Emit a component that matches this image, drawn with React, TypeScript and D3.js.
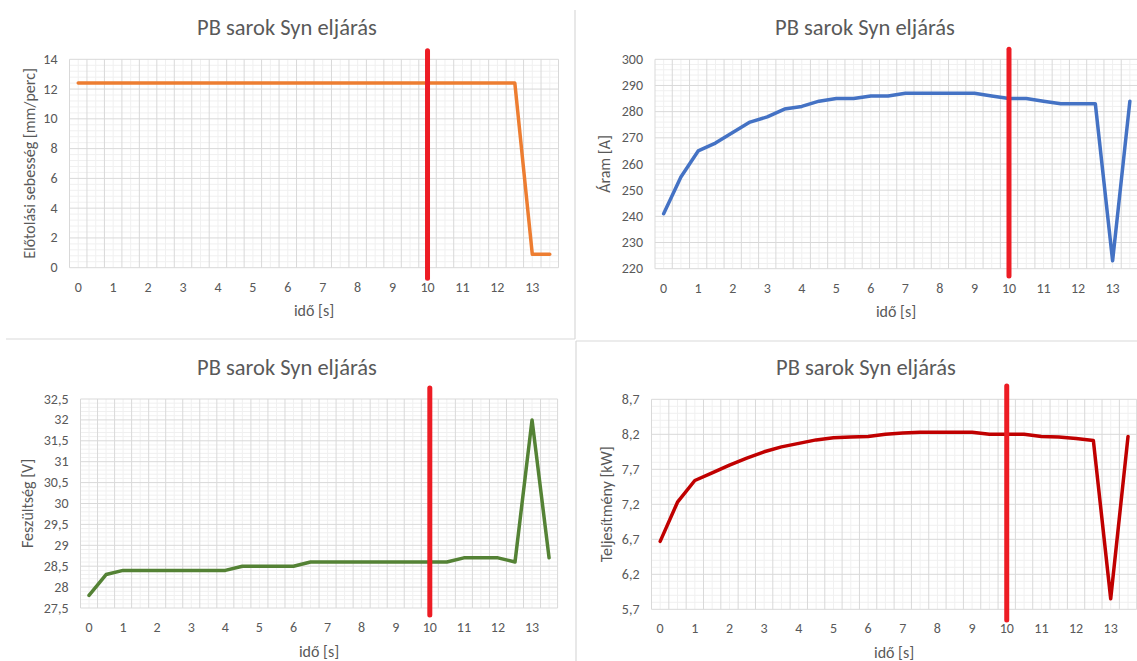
import React, { useEffect, useRef } from 'react';
import * as d3 from 'd3';

// időpontok (kategóriák) [s]
const ido = [0, 0.5, 1, 1.5, 2, 2.5, 3, 3.5, 4, 4.5, 5, 5.5, 6, 6.5, 7, 7.5, 8, 8.5, 9, 9.5, 10, 10.5, 11, 11.5, 12, 12.5, 13, 13.5];

// mért értékek
const elotolas = [12.4, 12.4, 12.4, 12.4, 12.4, 12.4, 12.4, 12.4, 12.4, 12.4, 12.4, 12.4, 12.4, 12.4, 12.4, 12.4, 12.4, 12.4, 12.4, 12.4, 12.4, 12.4, 12.4, 12.4, 12.4, 12.4, 0.9, 0.9];
const aram = [241, 255, 265, 268, 272, 276, 278, 281, 282, 284, 285, 285, 286, 286, 287, 287, 287, 287, 287, 286, 285, 285, 284, 283, 283, 283, 223, 284];
const feszultseg = [27.8, 28.3, 28.4, 28.4, 28.4, 28.4, 28.4, 28.4, 28.4, 28.5, 28.5, 28.5, 28.5, 28.6, 28.6, 28.6, 28.6, 28.6, 28.6, 28.6, 28.6, 28.6, 28.7, 28.7, 28.7, 28.6, 32.0, 28.7];
const teljesitmeny = [6.67, 7.23, 7.54, 7.65, 7.76, 7.86, 7.95, 8.02, 8.07, 8.12, 8.15, 8.16, 8.17, 8.20, 8.22, 8.23, 8.23, 8.23, 8.23, 8.20, 8.20, 8.20, 8.17, 8.16, 8.14, 8.11, 5.85, 8.17];

// tengely feliratok
const yTicks1 = [0, 2, 4, 6, 8, 10, 12, 14];
const yTicks2 = [220, 230, 240, 250, 260, 270, 280, 290, 300];
const yTicks3 = [27.5, 28, 28.5, 29, 29.5, 30, 30.5, 31, 31.5, 32, 32.5];
const yTicks4 = [5.7, 6.2, 6.7, 7.2, 7.7, 8.2, 8.7];
const xLabels = [0, 1, 2, 3, 4, 5, 6, 7, 8, 9, 10, 11, 12, 13];

const cim = 'PB sarok Syn eljárás';
const xCim = 'idő [s]';
const jelolo = 10; // piros függőleges jelölő

const FONT = "Carlito, Lato, 'Noto Sans', sans-serif";
const TEXT = '#595959';

const panels = [
  { values: elotolas, color: '#ED7D31', ticks: yTicks1, yTitle: 'Előtolási sebesség [mm/perc]',
    left: 69.5, right: 558.5, top: 59.3, bottom: 267.7, titleX: 287, yTitleX: 29, redTop: 50.7, redBottom: 278.3 },
  { values: aram, color: '#4472C4', ticks: yTicks2, yTitle: 'Áram [A]',
    left: 655, right: 1138.5, top: 59.3, bottom: 268.7, titleX: 865, yTitleX: 604.5, redTop: 49.3, redBottom: 276 },
  { values: feszultseg, color: '#548235', ticks: yTicks3, yTitle: 'Feszültség [V]',
    left: 80.5, right: 557.6, top: 399, bottom: 608, titleX: 287, yTitleX: 27, redTop: 388, redBottom: 615 },
  { values: teljesitmeny, color: '#C00000', ticks: yTicks4, yTitle: 'Teljesítmény [kW]',
    left: 651.5, right: 1136.7, top: 399.3, bottom: 609.3, titleX: 866, yTitleX: 606, redTop: 386, redBottom: 620 },
];

const fmt = (v: number) => String(v).replace('.', ',');

export default function App() {
  const svgRef = useRef<SVGSVGElement>(null);

  useEffect(() => {
    const svg = d3.select(svgRef.current);
    svg.selectAll('*').remove();

    panels.forEach((p) => {
      const g = svg.append('g');
      const x = d3.scaleBand<number>().domain(ido).range([p.left, p.right]).padding(0);
      const bw = x.bandwidth();
      const cx = (d: number) => (x(d) as number) + bw / 2;
      const lo = p.ticks[0];
      const hi = p.ticks[p.ticks.length - 1];
      const y = d3.scaleLinear().domain([lo, hi]).range([p.bottom, p.top]);
      const step = p.ticks[1] - p.ticks[0];

      // minor gridlines
      const minorY: number[] = [];
      for (let i = 0; i < (p.ticks.length - 1) * 5; i++) {
        if (i % 5 !== 0) minorY.push(lo + (i * step) / 5);
      }
      g.append('g').selectAll('line').data(minorY).join('line')
        .attr('x1', p.left).attr('x2', p.right)
        .attr('y1', d => y(d)).attr('y2', d => y(d))
        .attr('stroke', '#f0f0f0').attr('stroke-width', 1);
      g.append('g').selectAll('line').data(ido).join('line')
        .attr('x1', d => cx(d)).attr('x2', d => cx(d))
        .attr('y1', p.top).attr('y2', p.bottom)
        .attr('stroke', '#f0f0f0').attr('stroke-width', 1);

      // major gridlines
      g.append('g').selectAll('line').data(p.ticks).join('line')
        .attr('x1', p.left).attr('x2', p.right)
        .attr('y1', d => y(d)).attr('y2', d => y(d))
        .attr('stroke', '#d9d9d9').attr('stroke-width', 1);
      const bounds = [...ido.map(d => x(d) as number), p.right];
      g.append('g').selectAll('line').data(bounds).join('line')
        .attr('x1', d => d).attr('x2', d => d)
        .attr('y1', p.top).attr('y2', p.bottom)
        .attr('stroke', '#d9d9d9').attr('stroke-width', 1);

      // y tick labels
      g.append('g').selectAll('text').data(p.ticks).join('text')
        .attr('x', p.left - 12).attr('y', d => y(d))
        .attr('text-anchor', 'end').attr('dominant-baseline', 'central')
        .attr('font-family', FONT).attr('font-size', 14).attr('fill', TEXT)
        .text(d => fmt(d));

      // x tick labels
      g.append('g').selectAll('text').data(xLabels).join('text')
        .attr('x', d => cx(d)).attr('y', p.bottom + 19.5)
        .attr('text-anchor', 'middle').attr('dominant-baseline', 'central')
        .attr('font-family', FONT).attr('font-size', 14).attr('fill', TEXT)
        .text(d => String(d));

      // data line
      const line = d3.line<number>()
        .x((_, i) => cx(ido[i]))
        .y(d => y(d));
      g.append('path').datum(p.values)
        .attr('d', line)
        .attr('fill', 'none').attr('stroke', p.color)
        .attr('stroke-width', 3.5).attr('stroke-linejoin', 'round').attr('stroke-linecap', 'round');

      // red marker
      g.append('line')
        .attr('x1', cx(jelolo)).attr('x2', cx(jelolo))
        .attr('y1', p.redTop).attr('y2', p.redBottom)
        .attr('stroke', '#ED1C24').attr('stroke-width', 5).attr('stroke-linecap', 'round');

      // titles
      g.append('text')
        .attr('x', p.titleX).attr('y', p.top - 32)
        .attr('text-anchor', 'middle').attr('dominant-baseline', 'central')
        .attr('font-family', FONT).attr('font-size', 22.5).attr('fill', TEXT)
        .text(cim);
      g.append('text')
        .attr('x', (p.left + Math.min(p.right, 1137)) / 2).attr('y', p.bottom + 43)
        .attr('text-anchor', 'middle').attr('dominant-baseline', 'central')
        .attr('font-family', FONT).attr('font-size', 16).attr('fill', TEXT)
        .text(xCim);
      g.append('text')
        .attr('transform', `translate(${p.yTitleX},${(p.top + p.bottom) / 2}) rotate(-90)`)
        .attr('text-anchor', 'middle').attr('dominant-baseline', 'central')
        .attr('font-family', FONT).attr('font-size', 16).attr('fill', TEXT)
        .text(p.yTitle);
    });

    // chart borders
    const borders = [
      [575, 10, 575, 339],
      [6, 339, 575, 339],
      [576, 341, 1137, 341],
      [576, 341, 576, 661],
    ];
    svg.append('g').selectAll('line').data(borders).join('line')
      .attr('x1', d => d[0]).attr('y1', d => d[1]).attr('x2', d => d[2]).attr('y2', d => d[3])
      .attr('stroke', '#d9d9d9').attr('stroke-width', 1.2);
  }, []);

  return (
    <svg
      ref={svgRef}
      width={1137}
      height={661}
      style={{ position: 'absolute', left: 0, top: 0, background: '#fff' }}
    />
  );
}
